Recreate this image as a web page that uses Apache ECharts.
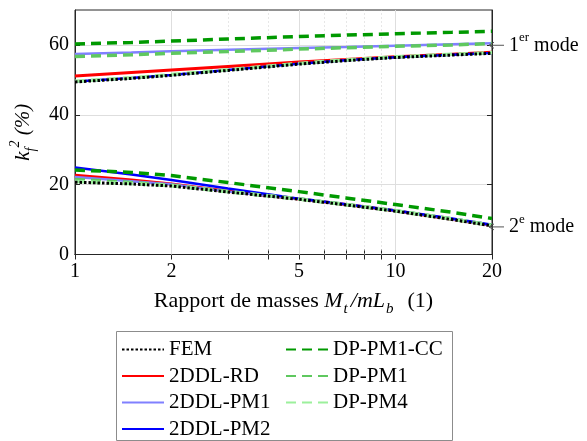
<!DOCTYPE html>
<html><head><meta charset="utf-8">
<script src="https://cdn.jsdelivr.net/npm/echarts@6/dist/echarts.min.js"></script>
<style>html,body{margin:0;padding:0;background:#fff}#c{width:587px;height:441px}</style>
</head><body><div id="c"></div>
<script>
// ---- data ----
const xValues = [1, 1.5, 2, 3, 5, 7, 10, 15, 20];
const xTickValues = [1, 2, 3, 4, 5, 6, 7, 8, 9, 10, 20];
const xLabelValues = [1, 2, 5, 10, 20];
const xMajorGrid = [2, 5, 10];
const xMinorGrid = [3, 4, 6, 7, 8, 9];
const yLabelValues = [0, 20, 40, 60];

const fem1 = [49.4, 50.4, 51.3, 52.7, 54.5, 55.5, 56.4, 57.1, 57.6];
const fem2 = [20.7, 20.2, 19.6, 17.9, 15.8, 14.2, 12.4, 10.0, 8.2];
const rd1  = [51.1, 52.1, 52.8, 53.8, 55.1, 55.8, 56.6, 57.3, 57.9];
const rd2  = [22.7, 21.3, 20.2, 18.1, 15.9, 14.3, 12.5, 10.1, 8.3];
const pm1a = [57.4, 57.8, 58.2, 58.6, 59.1, 59.4, 59.8, 60.2, 60.5];
const pm1b = [22.2, 21.0, 20.1, 18.0, 15.9, 14.3, 12.5, 10.1, 8.3];
const pm2a = [49.5, 50.5, 51.4, 52.8, 54.6, 55.6, 56.5, 57.2, 57.7];
const pm2b = [24.9, 22.9, 21.3, 18.9, 16.0, 14.4, 12.6, 10.3, 8.5];
const cc1  = [60.3, 60.7, 61.1, 61.7, 62.4, 62.8, 63.2, 63.6, 63.9];
const cc2  = [24.2, 23.5, 22.6, 20.6, 18.0, 16.2, 14.3, 12.1, 10.3];
const dp1a = [56.7, 57.2, 57.6, 58.1, 58.8, 59.2, 59.6, 60.0, 60.4];
const dp1b = [21.5, 20.6, 19.8, 18.0, 15.9, 14.3, 12.5, 10.2, 8.4];
const dp4a = [49.6, 50.6, 51.5, 52.9, 54.7, 55.7, 56.6, 57.3, 57.8];
const dp4b = [20.9, 20.3, 19.7, 18.0, 15.9, 14.3, 12.5, 10.2, 8.3];

const legendCol1 = ['FEM', '2DDL-RD', '2DDL-PM1', '2DDL-PM2'];
const legendCol2 = ['DP-PM1-CC', 'DP-PM1', 'DP-PM4'];

// ---- styles ----
const FONT = '"Liberation Serif", "Times New Roman", serif';
const AX = '#262626';
const defs = [
  {name: '2DDL-RD',   a: rd1,  b: rd2,  color: '#ff0000', width: 3,   type: 'solid'},
  {name: '2DDL-PM1',  a: pm1a, b: pm1b, color: '#8080ff', width: 2.5, type: 'solid'},
  {name: '2DDL-PM2',  a: pm2a, b: pm2b, color: '#0000ff', width: 2.5, type: 'solid'},
  {name: 'DP-PM1-CC', a: cc1,  b: cc2,  color: '#009900', width: 3.5, type: [10, 6]},
  {name: 'DP-PM1',    a: dp1a, b: dp1b, color: '#5fc85f', width: 3.5, type: [10, 6]},
  {name: 'DP-PM4',    a: dp4a, b: dp4b, color: '#9cf09c', width: 3.5, type: [10, 6]},
  {name: 'FEM',       a: fem1, b: fem2, color: '#000000', width: 3,   type: [2.5, 2]}
];

function pairs(ys) { return xValues.map((x, i) => [x, ys[i]]); }

const series = [];
series.push({
  type: 'line', data: [], silent: true, z: 1,
  markLine: {silent: true, symbol: 'none', z: 1, animation: false, label: {show: false},
    lineStyle: {color: '#dedede', width: 1, type: 'solid'},
    data: xMajorGrid.map(v => ({xAxis: v}))}
});
series.push({
  type: 'line', data: [], silent: true, z: 1,
  markLine: {silent: true, symbol: 'none', z: 1, animation: false, label: {show: false},
    lineStyle: {color: '#cfcfcf', width: 1, type: [1, 3]},
    data: xMinorGrid.map(v => ({xAxis: v}))}
});
defs.forEach((d, k) => {
  [d.a, d.b].forEach(arr => {
    series.push({
      type: 'line', name: d.name, data: pairs(arr), symbol: 'none', showSymbol: false,
      animation: false, z: 3 + k,
      lineStyle: {color: d.color, width: d.width, type: d.type, cap: 'butt'},
      itemStyle: {color: d.color}
    });
  });
});

const txt = {fontFamily: FONT, fontSize: 21, color: '#000'};
const legendBase = {
  orient: 'vertical', top: 339, itemWidth: 42, itemHeight: 14, itemGap: 5.5,
  itemStyle: {opacity: 0},
  textStyle: Object.assign({}, txt, {lineHeight: 20}), selectedMode: false, padding: 0
};

const chart = echarts.init(document.getElementById('c'), null, {renderer: 'canvas'});
chart.setOption({
  animation: false,
  backgroundColor: '#fff',
  grid: {left: 75, right: 95, top: 10, bottom: 186.5, show: true, borderColor: AX, borderWidth: 1},
  xAxis: [{
    type: 'log', logBase: 10, min: 1, max: 20, position: 'bottom',
    axisLine: {show: true, lineStyle: {color: AX}},
    axisTick: {show: true, inside: true, length: 5, customValues: xTickValues, lineStyle: {color: AX}},
    axisLabel: {customValues: xLabelValues, margin: 7, fontFamily: FONT, fontSize: 20, color: '#000',
      formatter: v => String(Math.round(v))},
    splitLine: {show: false}, minorTick: {show: false},
    name: 'Rapport de masses {i|M}{sub|t}{i|/mL}{sub|b}{n|  (1)}',
    nameLocation: 'middle', nameGap: 25,
    nameTextStyle: {fontFamily: FONT, fontSize: 22, color: '#000', lineHeight: 30, padding: [0, 0, 0, 20],
      rich: {
        n: {fontFamily: FONT, fontSize: 22, lineHeight: 30},
        i: {fontFamily: FONT, fontSize: 22, fontStyle: 'italic', lineHeight: 30},
        sub: {fontFamily: FONT, fontSize: 15, fontStyle: 'italic', lineHeight: 15, verticalAlign: 'bottom', padding: [0, 3, 0, 1]}
      }}
  }, {
    type: 'log', logBase: 10, min: 1, max: 20, position: 'top',
    axisLine: {show: true, lineStyle: {color: AX}},
    axisTick: {show: true, inside: true, length: 5, customValues: xTickValues, lineStyle: {color: AX}},
    axisLabel: {show: false}, splitLine: {show: false}
  }],
  yAxis: [{
    type: 'value', min: 0, max: 70, interval: 10, position: 'left',
    axisLine: {show: true, lineStyle: {color: AX}},
    axisTick: {show: true, inside: true, length: 5, customValues: yLabelValues, lineStyle: {color: AX}},
    axisLabel: {customValues: yLabelValues, margin: 6, fontFamily: FONT, fontSize: 20, color: '#000'},
    splitLine: {show: true, lineStyle: {color: '#dedede', width: 1}},
    name: '{i|k}{sub|f}{sup|2}{i| (%)}',
    nameLocation: 'middle', nameRotate: 90, nameGap: 29,
    nameTextStyle: {fontFamily: FONT, fontSize: 21, color: '#000', lineHeight: 30,
      rich: {
        i: {fontFamily: FONT, fontSize: 21, fontStyle: 'italic', lineHeight: 30},
        sub: {fontFamily: FONT, fontSize: 14, fontStyle: 'italic', lineHeight: 14, verticalAlign: 'bottom'},
        sup: {fontFamily: FONT, fontSize: 14, fontStyle: 'italic', lineHeight: 20, verticalAlign: 'top'}
      }}
  }, {
    type: 'value', min: 0, max: 70, interval: 10, position: 'right',
    axisLine: {show: true, lineStyle: {color: AX}},
    axisTick: {show: true, inside: true, length: 5, customValues: yLabelValues, lineStyle: {color: AX}},
    axisLabel: {show: false}, splitLine: {show: false}
  }],
  legend: [
    Object.assign({}, legendBase, {left: 121, data: legendCol1}),
    Object.assign({}, legendBase, {left: 285, data: legendCol2})
  ],
  series: series
});

// annotations placed through the chart's own coordinate conversion
const tip1 = chart.convertToPixel({gridIndex: 0}, [20, 59.9]);
const tip2 = chart.convertToPixel({gridIndex: 0}, [20, 7.9]);
function arrow(p) {
  const tx = p[0] - 3, ty = p[1];
  return [
    {type: 'line', z: 50, shape: {x1: tx, y1: ty, x2: tx + 15, y2: ty}, style: {stroke: '#555', lineWidth: 1}},
    {type: 'polyline', z: 50, shape: {points: [[tx + 5, ty - 3], [tx, ty], [tx + 5, ty + 3]]}, style: {stroke: '#555', lineWidth: 1, fill: null}}
  ];
}
const annRich = {
  n: {fontFamily: FONT, fontSize: 20, lineHeight: 28, fill: '#000'},
  sup: {fontFamily: FONT, fontSize: 13, lineHeight: 16, verticalAlign: 'top', fill: '#000'}
};
chart.setOption({
  graphic: [].concat(arrow(tip1), arrow(tip2), [
    {type: 'text', z: 50, x: 509, y: tip1[1], style: {text: '{n|1}{sup|er}{n| mode}', rich: annRich, verticalAlign: 'middle', align: 'left'}},
    {type: 'text', z: 50, x: 509, y: tip2[1], style: {text: '{n|2}{sup|e}{n| mode}', rich: annRich, verticalAlign: 'middle', align: 'left'}},
    {type: 'rect', z: 0, shape: {x: 116.5, y: 331.5, width: 336, height: 109}, style: {fill: null, stroke: '#8c8c8c', lineWidth: 1}}
  ])
});
</script></body></html>
